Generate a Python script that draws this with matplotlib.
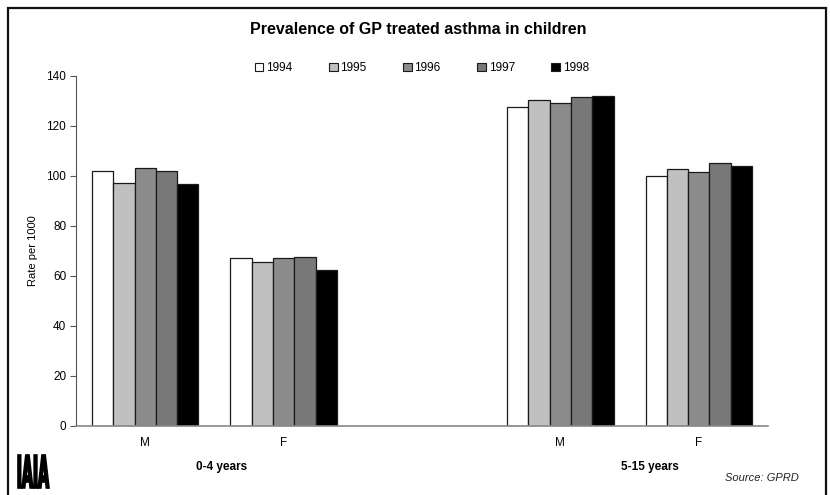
import matplotlib
matplotlib.use('Agg')
import matplotlib.pyplot as plt
from matplotlib.patches import Rectangle, PathPatch
from matplotlib.textpath import TextPath
from matplotlib.font_manager import FontProperties
from matplotlib.transforms import Affine2D
import numpy as np

plt.rcParams['font.family'] = ['Liberation Sans', 'DejaVu Sans']

# rate per 1000, one list per year: 0-4 M, 0-4 F, (gap), 5-15 M, 5-15 F
years = ['1994', '1995', '1996', '1997', '1998']
categories = ['M', 'F', '', 'M', 'F']
rate_1994 = [102.0, 67.2, np.nan, 127.6, 100.0]
rate_1995 = [97.4, 65.6, np.nan, 130.6, 102.8]
rate_1996 = [103.2, 67.2, np.nan, 129.4, 101.6]
rate_1997 = [102.0, 67.6, np.nan, 131.6, 105.4]
rate_1998 = [96.8, 62.4, np.nan, 132.0, 104.2]
age_groups = ['0-4 years', '5-15 years']

series = [rate_1994, rate_1995, rate_1996, rate_1997, rate_1998]
colours = ['#ffffff', '#c0c0c0', '#8c8c8c', '#787878', '#000000']

fig = plt.figure(figsize=(8.3, 4.95), dpi=100)
ax = fig.add_axes([76 / 830, 69 / 495, 692 / 830, 350 / 495])

x = np.arange(len(categories))
w = 1 / 6.5
for i, (vals, col) in enumerate(zip(series, colours)):
    ax.bar(x + (i - 2) * w, vals, width=w, color=col, edgecolor='#1a1a1a',
           linewidth=0.9, label=years[i])

ax.set_xlim(-0.5, 4.5)
ax.set_ylim(0, 140)
ax.set_yticks(range(0, 141, 20))
ax.set_xticks([0, 1, 3, 4])
ax.set_xticklabels(['M', 'F', 'M', 'F'])
ax.tick_params(axis='x', length=0, pad=8, labelsize=8.5)
ax.tick_params(axis='y', length=4, width=0.8, color='#555555', labelsize=8.5, pad=3)
for s in ['top', 'right']:
    ax.spines[s].set_visible(False)
ax.spines['left'].set_color('#555555')
ax.spines['bottom'].set_color('#888888')
ax.spines['bottom'].set_linewidth(1.2)
ax.set_ylabel('Rate per 1000', fontsize=8, labelpad=6)

# age group labels under the M/F pairs
ax.text(0.55, -0.117, age_groups[0], transform=ax.get_xaxis_transform(),
        ha='center', va='center', fontsize=8.5, fontweight='bold')
ax.text(3.65, -0.117, age_groups[1], transform=ax.get_xaxis_transform(),
        ha='center', va='center', fontsize=8.5, fontweight='bold')

fig.text(418 / 830, 1 - 30 / 495, 'Prevalence of GP treated asthma in children',
         ha='center', va='center', fontsize=11.5, fontweight='bold')

leg = fig.legend(loc='center', bbox_to_anchor=(422 / 830, 1 - 68 / 495), ncol=5,
                 frameon=False, fontsize=8.5, handlelength=0.7, handleheight=0.7,
                 handletextpad=0.25, columnspacing=3.1)
for h in leg.legend_handles:
    h.set_linewidth(0.8)

fig.text(725 / 830, 1 - 478 / 495, 'Source: GPRD', ha='left', va='center',
         fontsize=8, fontstyle='italic', color='#222222')

# logo: tall, narrow, heavy lettering
logo = TextPath((0, 0), 'IAIA', size=10,
                prop=FontProperties(family='DejaVu Sans', weight='bold'))
ext = logo.get_extents()
sx = 31 / ext.width
sy = 33 / ext.height
tr = Affine2D().translate(-ext.x0, -ext.y0).scale(sx, sy).translate(18, 7)
fig.patches.append(PathPatch(tr.transform_path(logo), facecolor='black',
                             edgecolor='black', lw=1.2, transform=None))

# outer frame
fig.patches.append(Rectangle((8 / 830, -0.02), 818 / 830, 1.02 - 8 / 495,
                             transform=fig.transFigure, fill=False,
                             edgecolor='#111111', linewidth=1.6))

fig.savefig('out.png', dpi=100)
